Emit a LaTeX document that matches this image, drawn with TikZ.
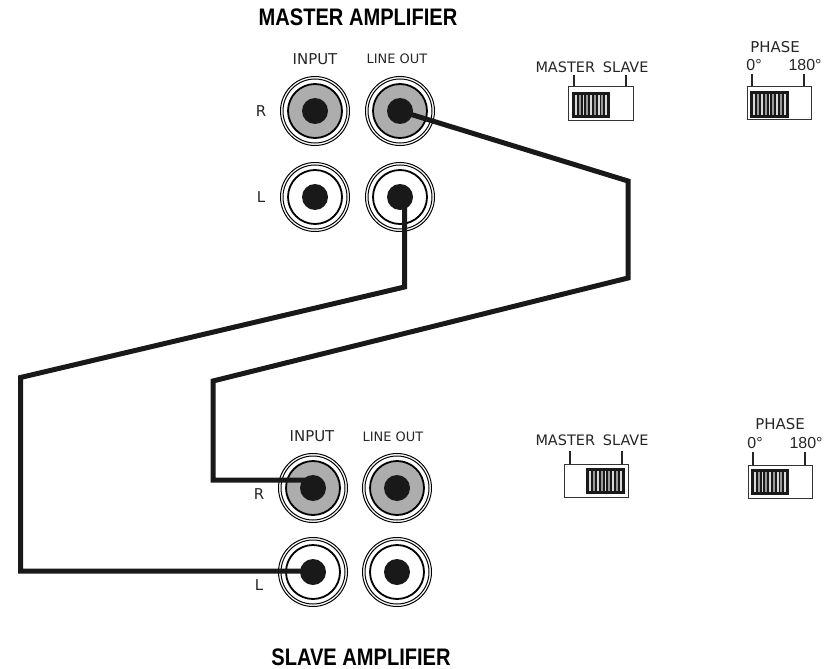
\documentclass[tikz,border=0pt]{standalone}
\usepackage{fontspec}
\setmainfont{DejaVu Sans}
\newfontfamily\headfont[FakeStretch=0.84]{Liberation Sans Bold}
\newfontfamily\numfont{Liberation Sans}
\begin{document}
\begin{tikzpicture}[x=1bp,y=-1bp,
  heading/.style={font=\headfont\fontsize{24}{24}\selectfont,inner sep=0},
  lab/.style={font=\fontsize{15}{16}\selectfont,inner sep=0,text=black!85},
  labsmall/.style={font=\fontsize{13}{14}\selectfont,inner sep=0,text=black!85},
  swlab/.style={font=\fontsize{14.5}{15}\selectfont,inner sep=0,text=black!85},
  numlab/.style={font=\numfont\fontsize{16}{16}\selectfont,inner sep=0,text=black!85},
  ring/.style={circle,draw=black,inner sep=0,minimum size=#1},
  pin/.style={circle,fill=black!90,draw=none,inner sep=0,minimum size=26bp},
  swbox/.style={draw=black!80,line width=1bp,fill=white,inner sep=0},
  lead/.style={draw=black!85,line width=1.2bp},
  wire/.style={draw=black!90,line width=5bp,line join=miter}]
\useasboundingbox (0,0) rectangle (837,669);

\newcommand{\rcajack}[4]{% name, x, y, fill
  \node[ring=69bp,line width=1bp,fill=white] (#1o) at (#2,#3) {};
  \node[ring=64bp,line width=1bp,fill=white] at (#2,#3) {};
  \node[ring=54bp,line width=1.8bp,fill=#4] at (#2,#3) {};
  \node[pin] (#1) at (#2,#3) {};
}
\newcommand{\hatchknob}[4]{% x1,y1,x2,y2
  \fill[black!90] (#1,#3) rectangle (#2,#4);
  \pgfmathsetmacro{\stepw}{(#2-#1-4)/9}
  \foreach \i in {0,...,8}{
    \pgfmathsetmacro{\shade}{mod(\i,2)==0 ? 15 : 40}
    \fill[black!\shade] ({#1+2+(\i+0.25)*\stepw},#3+3) rectangle ({#1+2+(\i+0.75)*\stepw},#4-3);
  }
}

\node[heading] (hm) at (358,17) {MASTER AMPLIFIER};
\node[heading] (hs) at (361,657) {SLAVE AMPLIFIER};

% Master jacks
\rcajack{mir}{315}{111}{black!32}
\rcajack{mor}{400}{111}{black!32}
\rcajack{mil}{315}{197}{white}
\rcajack{mol}{400}{197}{white}
\node[lab] (t1) at (315,59) {INPUT};
\node[labsmall] (t2) at (397,59) {LINE OUT};
\node[lab] (t3) at (261,111) {R};
\node[lab] (t4) at (261,197) {L};

% Slave jacks
\rcajack{sir}{313}{488}{black!32}
\rcajack{sor}{397}{488}{black!32}
\rcajack{sil}{313}{572}{white}
\rcajack{sol}{397}{572}{white}
\node[lab] (t5) at (312,436) {INPUT};
\node[labsmall] (t6) at (393,437) {LINE OUT};
\node[lab] (t7) at (259,494) {R};
\node[lab] (t8) at (259,585) {L};

% Wires
\coordinate (a1) at (628,181);
\coordinate (a2) at (628,278);
\coordinate (a3) at (213,381);
\coordinate (a4) at (213,480);
\coordinate (b0) at (404.5,197);
\coordinate (b1) at (404.5,287);
\coordinate (b2) at (20.5,377.5);
\coordinate (b3) at (20.5,571);
\coordinate (a5) at (313,480);
\coordinate (b4) at (313,571);
\draw[wire] (mor.center) -- (a1) -- (a2) -- (a3) -- (a4) -- (a5);
\draw[wire] (b0) -- (b1) -- (b2) -- (b3) -- (b4);

% Master switch (master amp)
\node[swlab] (m1) at (592,67) {MASTER\hspace{0.55em}SLAVE};
\draw[lead] (574,75) -- (574,87);
\draw[lead] (626,75) -- (626,87);
\draw[swbox] (568,87) rectangle (633,121);
\hatchknob{572}{610}{92}{118}

% Phase switch (master amp)
\node[lab] (p1) at (775,47) {PHASE};
\node[numlab] (p2) at (754,65) {0°};
\node[numlab] (p3) at (805,65) {180°};
\draw[lead] (752,74) -- (752,87);
\draw[lead] (804,74) -- (804,87);
\draw[swbox] (747,87) rectangle (811,120);
\hatchknob{750}{789}{91}{118}

% Master switch (slave amp)
\node[swlab] (m2) at (592,440) {MASTER\hspace{0.55em}SLAVE};
\draw[lead] (570,451) -- (570,464);
\draw[lead] (622,451) -- (622,464);
\draw[swbox] (564,464) rectangle (628,497);
\hatchknob{586}{625}{468}{494}

% Phase switch (slave amp)
\node[lab] (p4) at (780,424) {PHASE};
\node[numlab] (p5) at (755,443) {0°};
\node[numlab] (p6) at (806,443) {180°};
\draw[lead] (753,452) -- (753,465);
\draw[lead] (805,452) -- (805,465);
\draw[swbox] (748,465) rectangle (812,498);
\hatchknob{751}{789}{469}{495}
\end{tikzpicture}
\end{document}
